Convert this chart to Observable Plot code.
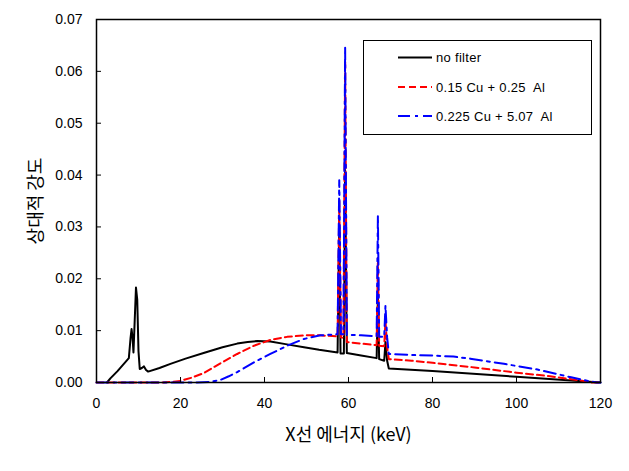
<!DOCTYPE html>
<html><head><meta charset="utf-8">
<script src="https://cdn.jsdelivr.net/npm/d3@7"></script>
<script src="https://cdn.jsdelivr.net/npm/@observablehq/plot@0.6"></script>
<style>body{margin:0;background:#fff} #chart{width:629px;height:471px}</style>
</head><body><div id="chart"></div>
<script>
// Series names
const seriesNames = ["no filter", "0.15 Cu + 0.25  Al", "0.225 Cu + 5.07  Al"];
// no filter
const noFilterE = [2.5,3.3,5,7.7,8.1,8.35,8.6,8.8,9.1,9.4,9.7,10.0,10.3,10.8,11.3,11.8,12.3,15,17.6,21.2,25.5,30,33.5,36,38.3,41.4,45,49.4,53,57.4,57.8,58.1,58.9,59.2,59.6,63,66.7,67.0,67.3,68.5,68.8,69.2,69.6,80,100,120];
const noFilterI = [0,0.0008,0.0022,0.0047,0.0085,0.0103,0.0085,0.0058,0.012,0.0183,0.016,0.006,0.0026,0.0028,0.0031,0.0024,0.0021,0.0028,0.0036,0.0046,0.0057,0.0068,0.0075,0.0078,0.0080,0.0079,0.0074,0.0068,0.0063,0.0058,0.030,0.0056,0.0056,0.041,0.0057,0.0052,0.0047,0.0164,0.0045,0.0042,0.0078,0.0042,0.0027,0.0022,0.0011,0];
// 0.15 Cu + 0.25 Al
const cuAlE = [0,15,18,20,22.5,25.5,29.5,33.5,37.5,41.4,45.4,49.4,53,57.4,57.8,58.2,58.8,59.2,59.6,63,66.7,67.0,67.3,68.5,68.8,69.2,69.6,75,80,90,100,108,115,118,120];
const cuAlI = [0,0,0.0001,0.0003,0.0009,0.0018,0.0037,0.0055,0.0071,0.0082,0.0088,0.0091,0.0091,0.0089,0.035,0.0087,0.0086,0.062,0.0078,0.0075,0.0072,0.024,0.0071,0.0070,0.012,0.0068,0.0045,0.0042,0.0038,0.0029,0.0019,0.0012,0.0004,0,0];
// 0.225 Cu + 5.07 Al
const cuAl2E = [0,24,27,29.5,31.5,33.5,37.5,41.4,45.4,49.4,53.3,57.4,57.8,58.2,58.8,59.2,59.6,63,66.7,67.0,67.3,68.5,68.8,69.2,69.6,75,80,85,89,97,105,113,117,119,120];
const cuAl2I = [0,0,0.0001,0.0005,0.0012,0.002,0.0039,0.0055,0.0071,0.0084,0.0091,0.0093,0.039,0.0093,0.0093,0.0647,0.0092,0.0091,0.0089,0.0322,0.0088,0.0088,0.0148,0.0087,0.0055,0.0053,0.0052,0.005,0.0046,0.0036,0.0025,0.001,0.0003,0,0];
// ticks
const xTicks = [0,20,40,60,80,100,120];
const yTicks = [0,0.01,0.02,0.03,0.04,0.05,0.06,0.07];
const xTitle = "X선 에너지 (keV)";
const yTitle = "상대적 강도";

const toRows = (E, I) => E.map((e, i) => ({e, v: I[i]}));
const rows = [toRows(noFilterE, noFilterI), toRows(cuAlE, cuAlI), toRows(cuAl2E, cuAl2I)];
const colors = ["#000000", "#ff0000", "#0000ff"];
const dashes = [null, "7,4", "12,5,3,5"];

const font = "'Liberation Sans', Arial, 'Noto Sans CJK KR', sans-serif";
const svg = Plot.plot({
  width: 629, height: 471,
  marginLeft: 96, marginRight: 29, marginTop: 19, marginBottom: 89,
  style: {fontFamily: font, fontSize: "14px", background: "#fff", color: "#000", overflow: "visible"},
  x: {domain: [0, 120]},
  y: {domain: [0, 0.07]},
  marks: [
    ...rows.map((r, i) => Plot.line(r, {x: "e", y: "v", stroke: colors[i], strokeWidth: 2, strokeDasharray: dashes[i], strokeLinejoin: "round"})),
    Plot.frame({stroke: "#000", strokeWidth: 1.5}),
    Plot.axisX({ticks: xTicks, tickSize: -5, tickPadding: 21, tickFormat: d => String(d), label: null, strokeWidth: 1}),
    Plot.axisY({ticks: yTicks, tickSize: -5, tickPadding: 19, tickFormat: d3.format(".2f"), label: null, strokeWidth: 1}),
    Plot.text([xTitle], {frameAnchor: "bottom", dy: 58, fontSize: 18, fontFamily: "'Noto Sans CJK KR', sans-serif"}),
    Plot.text([yTitle], {frameAnchor: "left", dx: -60, rotate: -90, textAnchor: "middle", fontSize: 18, fontFamily: "'Noto Sans CJK KR', sans-serif"})
  ]
});

// Legend box inside the plot
const g = d3.select(svg).append("g").attr("font-family", font).attr("font-size", 13).attr("text-anchor", "start");
g.append("rect").attr("x", 363.5).attr("y", 40.5).attr("width", 228).attr("height", 94)
  .attr("fill", "#fff").attr("stroke", "#000").attr("stroke-width", 1);
const rowY = [57.5, 87, 116];
seriesNames.forEach((name, i) => {
  g.append("line").attr("x1", 398).attr("x2", 432).attr("y1", rowY[i]).attr("y2", rowY[i])
    .attr("stroke", colors[i]).attr("stroke-width", 2).attr("stroke-dasharray", dashes[i]);
  g.append("text").attr("x", 436).attr("y", rowY[i]).attr("dy", "0.35em").attr("text-anchor", "start")
    .style("white-space", "pre").style("letter-spacing", "0.3px").text(name);
});
document.getElementById("chart").appendChild(svg);
</script>
</body></html>
